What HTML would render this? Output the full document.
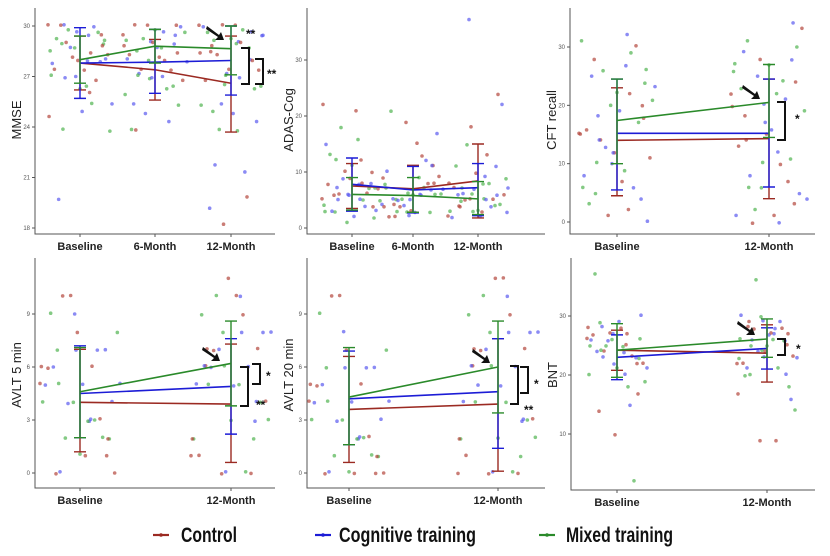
<!DOCTYPE html>
<html><head><meta charset="utf-8"><style>
body{margin:0;background:#fff}
svg{display:block;font-family:"Liberation Sans",sans-serif}
</style></head><body>
<svg id="c" width="830" height="556" viewBox="0 0 830 556"></svg>
<script>
// ---- data ----
const groups = ["Control","Cognitive training","Mixed training"];
const mmseCats = ["Baseline","6-Month","12-Month"];
const mmseMean = [[27.8,27.4,26.6],[27.8,27.85,27.95],[28.0,28.8,28.65]];
const mmseLo = [[26.2,25.6,23.7],[25.7,26.0,25.9],[26.6,27.8,27.1]];
const mmseHi = [[29.4,29.2,29.4],[29.9,29.8,30.0],[29.4,29.8,30.0]];
const mmsePts = [
 [30,28,29,29.5,27,28.5,26,30,29,28,27.8,25.4,29,28,26.2,27.5,30,29.8,28.3,24.9,29.2,26.7,28.8,23.8,27.4,19.7,29.6,28.1,25.3,26.5,30.1,27.9,28.7,24.6,29.4,23.8,28.9,29.7,27.1,28.4,26.9,29.1],
 [30,29,28,29.5,27,28.5,30,29,26,28,27.2,25.3,29,28,26.2,27.5,30,29.8,28.3,24.3,29.2,26.7,28.8,23.9,27.4,24.8,29.6,28.1,25.3,26.5,30.1,27.9,28.7,23.8,29.4,26.8,28.9,29.7,27.1,28.4,26.9,29.1],
 [30,29.5,29,28.5,28,26.5,30,29,25,28,27.2,25.3,29,21.7,26.2,27.5,30,29.8,28.3,24.3,29.2,26.7,21.4,23.9,27.4,24.8,29.6,19.8,25.3,26.5,30.1,19.2,28.7,18.2,29.4,23.7,28.9,29.7,27.1,28.4,26.9,29.1]];
const adasCats = ["Baseline","6-Month","12-Month"];
const adasMean = [[7.5,7.0,8.4],[7.8,6.8,7.2],[6.0,5.8,5.2]];
const adasLo = [[3.5,2.8,1.8],[3.0,2.7,2.2],[3.2,2.8,2.4]];
const adasHi = [[11.5,11.2,15.0],[12.5,11.0,11.5],[9.0,9.0,8.3]];
const adasPts = [
 [5,8,3,10,6,4,12,7,2,9,15,5,6,3,11,8,4,18,7,2,13,6,9,5,21,3,7,10,4,16,6,8,1,22,5,12,4,6,3,8,5,7],
 [4,7,3,9,6,5,11,2,8,13,5,6,3,10,7,4,17,6,2,12,5,9,3,21,8,4,6,15,5,3,19,7,9,2,11,6,4,6,3,8,5,7],
 [5,3,8,4,11,6,2,9,5,24,7,3,13,6,4,10,2,8,5,22,3,7,4,15,6,2,11,5,37,9,3,6,4,18,7,5,4,6,3,8,5,7]];
const cftCats = ["Baseline","12-Month"];
const cftMean = [[14.0,14.3],[15.2,15.2],[17.4,20.5]];
const cftLo = [[4.5,4.0],[5.5,6.0],[10.0,14.5]];
const cftHi = [[23.0,24.5],[24.5,24.5],[24.5,27.0]];
const cftPts = [
 [15,27,5,20,10,31,2,18,24,12,8,29,14,0,22,16,6,26,11,19,3,30,13,21,7,25,17,1,23,9,28,4,20,15,32,10,18,12,6,22,14,26],
 [18,28,6,22,12,31,3,20,26,10,8,30,15,1,24,0,5,27,13,21,2,33,16,23,7,25,19,1,29,11,28,4,22,14,34,10,20,0,6,24,17,27]];
const avlt5Cats = ["Baseline","12-Month"];
const avlt5Mean = [[4.0,3.9],[4.5,4.9],[4.6,6.2]];
const avlt5Lo = [[1.2,0.6],[2.0,2.2],[2.0,3.8]];
const avlt5Hi = [[7.0,7.3],[7.2,7.6],[7.1,8.6]];
const avlt5Pts = [
 [5,3,7,1,9,4,6,0,2,8,5,3,10,4,1,6,7,2,0,5,9,3,4,8,1,6,2,10,5,3,0,7,4,6,3,5,2,7],
 [6,3,8,1,10,5,7,0,2,9,6,4,11,5,0,7,8,3,1,6,10,4,5,9,0,7,3,10,6,2,0,8,5,7,4,6,2,8]];
const avlt20Cats = ["Baseline","12-Month"];
const avlt20Mean = [[3.6,3.9],[4.2,4.6],[4.3,6.0]];
const avlt20Lo = [[0.6,0.1],[1.6,1.4],[1.6,3.4]];
const avlt20Hi = [[6.6,7.6],[6.9,7.6],[7.1,8.6]];
const avlt20Pts = [
 [4,2,6,0,8,3,5,0,1,7,4,2,10,3,0,5,6,1,0,4,9,2,3,7,0,5,1,10,4,2,0,6,3,5,2,4,1,6],
 [6,3,8,0,10,4,7,0,2,9,5,3,11,4,0,7,8,2,1,6,10,3,5,9,0,7,2,11,6,1,0,8,4,7,3,6,2,8]];
const bntCats = ["Baseline","12-Month"];
const bntMean = [[24.2,23.7],[23.0,24.5],[24.2,26.1]];
const bntLo = [[20.8,18.8],[19.2,21.0],[19.6,23.0]];
const bntHi = [[27.6,28.5],[26.8,28.0],[28.7,29.5]];
const bntPts = [
 [26,24,29,22,27,20,25,28,23,10,26,18,24,30,21,27,15,25,22,29,37,23,26,19,28,24,2,27,21,25,14,23,26,28,20,24,17,22,25,27,23,26],
 [28,26,30,22,27,20,25,29,23,9,26,18,24,30,21,28,16,25,22,29,36,23,27,20,28,24,14,27,21,26,9,23,26,29,20,24,17,28,25,27,23,26]];
// ---- drawing ----
const NS="http://www.w3.org/2000/svg";
const svg=document.getElementById('c');
const lineCol=["#9b2a22","#1c1cd6","#2a8a2a"];
const ptCol=["rgba(180,70,60,0.7)","rgba(90,90,240,0.7)","rgba(80,180,80,0.7)"];
function el(tag,attrs,parent){const e=document.createElementNS(NS,tag);for(const k in attrs)e.setAttribute(k,attrs[k]);(parent||svg).appendChild(e);return e;}
function panel(p){
 const g=el('g',{});
 
 
 const ys=v=>p.p0+(v-p.v0)*(p.p1-p.p0)/(p.v1-p.v0);
 const xs=i=>p.cx[i];
 const ax=el('path',{d:`M${p.x0},${p.top}V${p.bot}H${p.x1}`,stroke:'#555',fill:'none','stroke-width':1},g);
 
 
 p.ticks.forEach(t=>{
  el('line',{x1:p.x0-3,x2:p.x0,y1:ys(t),y2:ys(t),stroke:'#555'},g);
  const tl=el('text',{x:p.x0-5,y:ys(t)+2,'font-size':6,'text-anchor':'end',fill:'#555'},g);tl.textContent=t;
  
  
 });
 p.cats.forEach((c,i)=>{
  el('line',{x1:xs(i),x2:xs(i),y1:p.bot,y2:p.bot+3,stroke:'#555'},g);
  const ct=el('text',{x:xs(i),y:p.bot+16,'font-size':11,'font-weight':'bold','text-anchor':'middle',fill:'#222'},g);ct.textContent=c;
  
  
 });
 const yl=el('text',{x:0,y:0,'font-size':13,'text-anchor':'middle',fill:'#222',transform:`translate(${p.x0-14},${p.ylabY}) rotate(-90)`},g);
 yl.textContent=p.label;
 
 
 p.pts.forEach((arr,ti)=>{arr.forEach((v,j)=>{
  const off=(((j*37+ti*11)%61)-30)/30*p.jw;
  const c=el('circle',{cx:xs(ti)+off,cy:ys(v)+((j*13)%7-3)*0.4,r:1.8,fill:ptCol[j%3]},g);
  
  
 });});
 [0,1,2].forEach(k=>{
  const d=p.mean[k].map((v,i)=>(i?'L':'M')+xs(i)+','+ys(v)).join('');
  const ln=el('path',{d:d,stroke:lineCol[k],fill:'none','stroke-width':1.6},g);
  
  
  p.mean[k].forEach((v,i)=>{
   const x=xs(i),lo=ys(p.lo[k][i]),hi=ys(p.hi[k][i]);
   const eb=el('path',{d:`M${x},${lo}V${hi}M${x-6},${lo}H${x+6}M${x-6},${hi}H${x+6}`,stroke:lineCol[k],fill:'none','stroke-width':1.4},g);
   
   
  });
 });
 if(p.extra)p.extra(g,xs,ys);
}
function arrow(g,x,y){
 const a=el('path',{d:`M${x-15},${y-11}L${x-3},${y-2}L${x-1},${y-5}L${x+2},${y+3}L${x-7},${y+3}L${x-4},${y}L${x-16},${y-8}Z`,fill:'#111'},g);
 
 
}
function bracket(g,x,y1,y2,label,lx,ly){
 const b=el('path',{d:`M${x-8},${y1}H${x}V${y2}H${x-8}`,stroke:'#111',fill:'none','stroke-width':2},g);
 
 
 const t=el('text',{x:lx,y:ly,'font-size':12,'font-weight':'bold',fill:'#111'},g);t.textContent=label;
 
 
}
panel({name:'mmse',label:'MMSE',x0:35,x1:275,top:8,bot:234,v0:18,p0:228,v1:30,p1:26,ticks:[18,21,24,27,30],cats:mmseCats,cx:[80,155,231],jw:32,ylabY:120,
 mean:mmseMean,lo:mmseLo,hi:mmseHi,pts:mmsePts,extra:(g,xs,ys)=>{arrow(g,222,37);
 const t=el('text',{x:246,y:38,'font-size':12,'font-weight':'bold',fill:'#111'},g);t.textContent='**';
 
 
 bracket(g,249,48,84,'',0,0);bracket(g,263,59,84,'**',267,78);}});
panel({name:'adas-cog',label:'ADAS-Cog',x0:307,x1:545,top:8,bot:234,v0:0,p0:228,v1:30,p1:60,ticks:[0,10,20,30],cats:adasCats,cx:[352,413,478],jw:30,ylabY:120,
 mean:adasMean,lo:adasLo,hi:adasHi,pts:adasPts});
panel({name:'cft-recall',label:'CFT recall',x0:570,x1:815,top:8,bot:234,v0:0,p0:222,v1:30,p1:47,ticks:[0,10,20,30],cats:cftCats,cx:[617,769],jw:38,ylabY:120,
 mean:cftMean,lo:cftLo,hi:cftHi,pts:cftPts,extra:(g)=>{arrow(g,758,96);bracket(g,785,102,140,'*',795,123);}});
panel({name:'avlt-5-min',label:'AVLT 5 min',x0:35,x1:275,top:258,bot:488,v0:0,p0:473,v1:9,p1:314,ticks:[0,3,6,9],cats:avlt5Cats,cx:[80,231],jw:40,ylabY:375,
 mean:avlt5Mean,lo:avlt5Lo,hi:avlt5Hi,pts:avlt5Pts,extra:(g)=>{arrow(g,218,358);bracket(g,260,364,384,'*',266,380);bracket(g,248,367,406,'**',256,409);}});
panel({name:'avlt-20-min',label:'AVLT 20 min',x0:307,x1:545,top:258,bot:488,v0:0,p0:473,v1:9,p1:314,ticks:[0,3,6,9],cats:avlt20Cats,cx:[349,498],jw:40,ylabY:375,
 mean:avlt20Mean,lo:avlt20Lo,hi:avlt20Hi,pts:avlt20Pts,extra:(g)=>{arrow(g,488,360);bracket(g,528,367,393,'*',534,388);bracket(g,518,366,404,'**',524,414);}});
panel({name:'bnt',label:'BNT',x0:571,x1:815,top:258,bot:490,v0:20,p0:375,v1:30,p1:316,ticks:[10,20,30],cats:bntCats,cx:[617,767],jw:30,ylabY:375,
 mean:bntMean,lo:bntLo,hi:bntHi,pts:bntPts,extra:(g)=>{arrow(g,753,332);bracket(g,785,339,355,'*',796,353);}});
// legend
const lx=[153,315,539];
const tx=[181,339,566];
const lw=[56,137,107];
groups.forEach((n,k)=>{
 const lg=el('g',{});
 
 
 el('line',{x1:lx[k],x2:lx[k]+16,y1:535,y2:535,stroke:lineCol[k],'stroke-width':2.2},lg);
 el('circle',{cx:lx[k]+8,cy:535,r:1.8,fill:lineCol[k]},lg);
 const t=el('text',{x:tx[k],y:542,'font-size':21,'font-weight':'bold',fill:'#111',textLength:lw[k],lengthAdjust:'spacingAndGlyphs'},lg);t.textContent=n;
});
</script>
</body></html>
